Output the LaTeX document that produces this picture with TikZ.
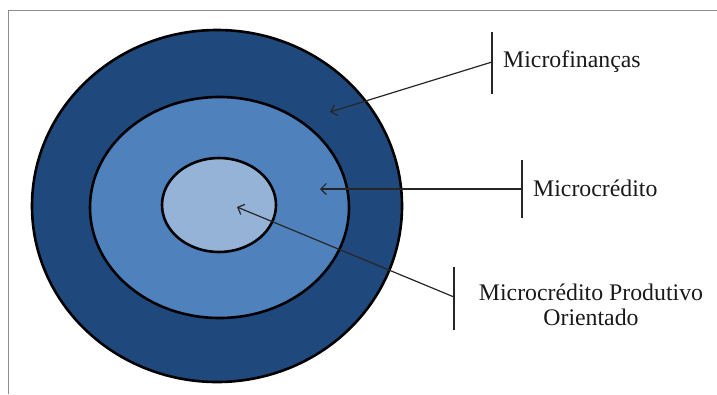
\documentclass[tikz,border=0pt]{standalone}
\usepackage{fontspec}
\setmainfont{Liberation Serif}
\usetikzlibrary{shapes.geometric,arrows.meta}
\definecolor{outerblue}{HTML}{1F497D}
\definecolor{midblue}{HTML}{4F81BD}
\definecolor{innerblue}{HTML}{95B3D7}
\definecolor{framegray}{HTML}{8C8C8C}
\tikzset{
  ring/.style={ellipse, draw=black, line width=2.6pt, inner sep=0pt},
  lbl/.style={font=\fontsize{23.8}{25}\selectfont, inner sep=0pt, text=black!90},
  barline/.style={line width=1.4pt, black!85},
  ptr/.style={line width=1.2pt, black!85, -{Straight Barb[length=5.5pt,width=11pt,line width=1.2pt]}}
}
\begin{document}
\begin{tikzpicture}[x=1pt,y=-1pt]
\useasboundingbox (0,0) rectangle (717,394);
\draw[framegray, line width=1.5pt] (8.5,394) -- (8.5,10.5) -- (717,10.5);
\node[ring, fill=outerblue, minimum width=370pt, minimum height=352pt] (outer) at (217,206) {};
\node[ring, fill=midblue, minimum width=259pt, minimum height=221pt] (mid) at (219.5,207.5) {};
\node[ring, fill=innerblue, minimum width=114pt, minimum height=94pt] (inner) at (219,205) {};
\coordinate (tipA) at (330,112);
\coordinate (tipB) at (320,189);
\coordinate (tipC) at (237,207);
\coordinate (barAt) at (492,32); \coordinate (barAb) at (492,94); \coordinate (barAm) at (492,62);
\coordinate (barBt) at (522,160); \coordinate (barBb) at (522,218); \coordinate (barBm) at (522,189);
\coordinate (barCt) at (454,267); \coordinate (barCb) at (454,330); \coordinate (barCm) at (454,297);
\draw[barline] (barAt) -- (barAb);
\draw[barline] (barBt) -- (barBb);
\draw[barline] (barCt) -- (barCb);
\draw[ptr] (barAm) -- (tipA);
\draw[ptr] (barBm) -- (tipB);
\draw[ptr] (barCm) -- (tipC);
\node[lbl, anchor=west] (lA) at (503,62) {Microfinanças};
\node[lbl, anchor=west] (lB) at (533,188) {Microcrédito};
\node[lbl, align=center] (lC) at (591,305) {Microcrédito Produtivo\\Orientado};
\end{tikzpicture}
\end{document}
